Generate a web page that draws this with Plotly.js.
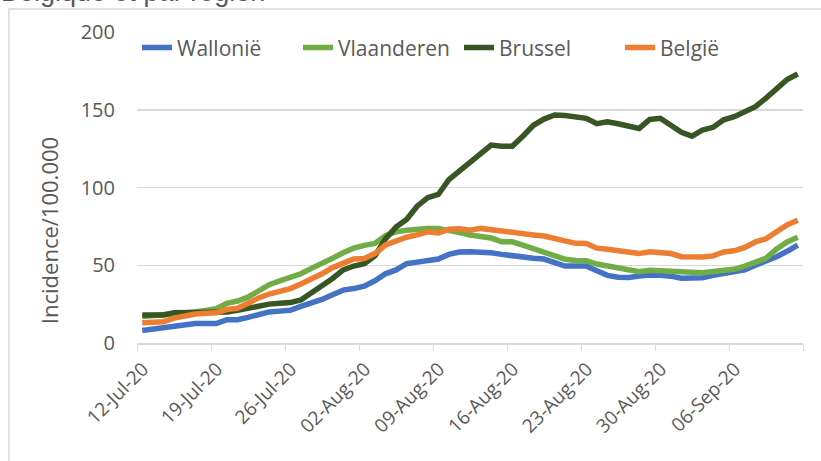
<!DOCTYPE html>
<html>
<head>
<meta charset="utf-8">
<script src="https://cdn.plot.ly/plotly-3.0.1.min.js"></script>
<style>
html,body{margin:0;padding:0;background:#fff;}
#chart{width:821px;height:461px;}
</style>
</head>
<body>
<div id="chart"></div>
<script>
const dates = [
'2020-07-12','2020-07-13','2020-07-14','2020-07-15','2020-07-16','2020-07-17','2020-07-18',
'2020-07-19','2020-07-20','2020-07-21','2020-07-22','2020-07-23','2020-07-24','2020-07-25',
'2020-07-26','2020-07-27','2020-07-28','2020-07-29','2020-07-30','2020-07-31','2020-08-01',
'2020-08-02','2020-08-03','2020-08-04','2020-08-05','2020-08-06','2020-08-07','2020-08-08',
'2020-08-09','2020-08-10','2020-08-11','2020-08-12','2020-08-13','2020-08-14','2020-08-15',
'2020-08-16','2020-08-17','2020-08-18','2020-08-19','2020-08-20','2020-08-21','2020-08-22',
'2020-08-23','2020-08-24','2020-08-25','2020-08-26','2020-08-27','2020-08-28','2020-08-29',
'2020-08-30','2020-08-31','2020-09-01','2020-09-02','2020-09-03','2020-09-04','2020-09-05',
'2020-09-06','2020-09-07','2020-09-08','2020-09-09','2020-09-10','2020-09-11','2020-09-12'
];

const wallonie = [8,9,10,11,12,12.5,12.5,12.5,15,15,16.5,18,20,20.5,21,23.5,25.5,28,31,34,35,
36.5,40,44.5,47,51,52,53,54,57,58.5,58.7,58.5,58,57,56,55,54.5,54,52,49.5,49.5,49.5,46.5,43.5,
42.3,42.2,43,43.7,43.5,43,41.6,42,42,43.5,44.5,45.5,47,50,52.3,55.5,59,63];

const vlaanderen = [17,17.5,18,18.5,19,20,21,22,25.5,27,29.5,34,37.5,40,42,44.5,48,51,54.5,58,61,
62.8,64,69,71.5,72.5,73.5,73.7,73.7,72.7,71,69.5,68.5,67.5,65.1,65.1,63,60.5,58.3,55.8,53.8,53,
52.9,50.8,49.5,48,46.5,45.8,46.8,46.5,46,45.4,45.2,45.2,46,46.8,47.4,49.5,52,54.5,60.5,65,68];

const brussel = [18,18,18,19.5,19.5,19.5,19.5,19.5,20,21,22.5,24,25,25.5,26,27.7,32,37,41.5,47,49.5,
51,56,67,74.5,79.5,88,93.5,95.5,105,110.5,115.5,121,127.3,126.5,126.5,133,140,144,146.6,146.3,145.2,
144.5,141,142.2,141,139.3,138,143.8,144.5,140,135.5,133,137,138.7,143.5,145.5,148.5,152,157.5,163.5,169.5,173];

const belgie = [13,13.3,13.7,16,17.5,18.6,19.2,19.5,21.5,22.3,25.5,29,31.5,33,35,37.9,41,44.5,48.5,51.6,54,
54.4,57.5,63,65.5,68,69.5,71.5,70.7,73.1,73.5,72.5,73.7,72.7,72,71,70.5,69.5,68.8,67,65,64.1,64,61,60.3,
59.5,58.2,57.5,58.7,58.3,57.5,55.5,55.2,55.3,56,58.5,59.3,61.5,65,67,71.6,76,79];

const seriesNames = ['Wallonië','Vlaanderen','Brussel','België'];
const seriesColors = ['#4472C4','#70AD47','#375623','#ED7D31'];
const tickDates = ['2020-07-12','2020-07-19','2020-07-26','2020-08-02','2020-08-09','2020-08-16','2020-08-23','2020-08-30','2020-09-06','2020-09-13'];
const tickLabels = ['12-Jul-20','19-Jul-20','26-Jul-20','02-Aug-20','09-Aug-20','16-Aug-20','23-Aug-20','30-Aug-20','06-Sep-20',''];

// points sit in the middle of each day (Excel "between tick marks")
const xs = dates.map(d => d + ' 12:00');
const allVals = [wallonie, vlaanderen, brussel, belgie];

const FONT = 'Open Sans, Noto Sans, sans-serif';
const GREY = '#595959';

const traces = allVals.map((v, i) => ({
  type: 'scatter', mode: 'lines', x: xs, y: v, name: seriesNames[i],
  line: {color: seriesColors[i], width: 5.5, shape: 'linear'}
}));

const layout = {
  width: 821, height: 461,
  margin: {l: 137, r: 18, t: 32, b: 118},
  paper_bgcolor: '#fff', plot_bgcolor: '#fff',
  font: {family: FONT, color: GREY, size: 20},
  showlegend: true,
  legend: {orientation: 'h', x: 0, xanchor: 'left', y: 0.949, yanchor: 'middle',
           bgcolor: 'rgba(0,0,0,0)', font: {size: 21, color: GREY}, itemwidth: 30,
           entrywidth: 116, entrywidthmode: 'pixels', tracegroupgap: 0},
  xaxis: {
    type: 'date', range: ['2020-07-12', '2020-09-13'],
    tickmode: 'array', tickvals: tickDates, ticktext: tickLabels,
    tickangle: -45, ticks: 'outside', ticklen: 6, tickcolor: '#d9d9d9',
    showline: true, linecolor: '#d9d9d9', linewidth: 1.5,
    showgrid: false, zeroline: false, ticklabelshift: 6,
    tickfont: {size: 19, color: GREY, family: FONT}
  },
  yaxis: {
    range: [0, 200], dtick: 50, tick0: 0,
    showgrid: true, gridcolor: '#d9d9d9', gridwidth: 1.5,
    showline: false, zeroline: false, ticks: '',
    tickfont: {size: 20, color: GREY, family: FONT}, ticklabelstandoff: 21
  },
  shapes: [{
    type: 'rect', xref: 'paper', yref: 'paper',
    x0: -0.1923, x1: 1.2, y0: -0.6, y1: 1.074,
    line: {color: '#d9d9d9', width: 1.5}, fillcolor: 'rgba(0,0,0,0)', layer: 'below'
  }],
  annotations: [
    {text: 'Incidence/100.000', xref: 'paper', yref: 'paper', x: -0.132, y: 0.36,
     xanchor: 'center', yanchor: 'middle', textangle: -90, showarrow: false,
     font: {size: 22, color: GREY, family: FONT}},
    {text: 'Belgique et par région', xref: 'paper', yref: 'paper', x: -0.2073, y: 1.1285,
     xanchor: 'left', yanchor: 'middle', showarrow: false,
     font: {size: 27, color: GREY, family: 'Liberation Sans, Arial, sans-serif'}}
  ]
};

Plotly.newPlot('chart', traces, layout, {staticPlot: true, displayModeBar: false});
</script>
</body>
</html>
